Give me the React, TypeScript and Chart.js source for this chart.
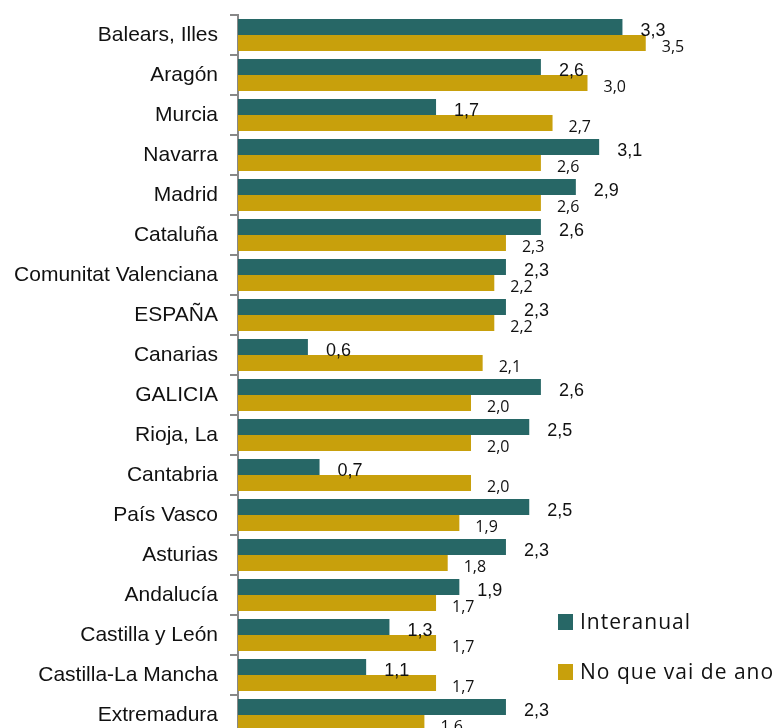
import React, { useEffect, useRef } from "react";
import { Chart, registerables } from "chart.js";

Chart.register(...registerables);

const categories = [
  "Balears, Illes",
  "Aragón",
  "Murcia",
  "Navarra",
  "Madrid",
  "Cataluña",
  "Comunitat Valenciana",
  "ESPAÑA",
  "Canarias",
  "GALICIA",
  "Rioja, La",
  "Cantabria",
  "País Vasco",
  "Asturias",
  "Andalucía",
  "Castilla y León",
  "Castilla-La Mancha",
  "Extremadura",
];

const interanual = [3.3, 2.6, 1.7, 3.1, 2.9, 2.6, 2.3, 2.3, 0.6, 2.6, 2.5, 0.7, 2.5, 2.3, 1.9, 1.3, 1.1, 2.3];
const noQueVaiDeAno = [3.5, 3.0, 2.7, 2.6, 2.6, 2.3, 2.2, 2.2, 2.1, 2.0, 2.0, 2.0, 1.9, 1.8, 1.7, 1.7, 1.7, 1.6];

const seriesNames = ["Interanual", "No que vai de ano"];
const seriesColors = ["#276766", "#C8A00C"];

const valueLabels = {
  id: "valueLabels",
  afterDatasetsDraw(chart: any) {
    const ctx = chart.ctx;
    chart.data.datasets.forEach((ds: any, i: number) => {
      const meta = chart.getDatasetMeta(i);
      meta.data.forEach((bar: any, j: number) => {
        const v = ds.data[j] as number;
        const txt = v.toFixed(1).replace(".", ",");
        ctx.save();
        ctx.font = i === 0 ? '18px "Liberation Sans"' : '16px "Open Sans"';
        ctx.fillStyle = "#111";
        ctx.textAlign = "left";
        ctx.textBaseline = "middle";
        ctx.fillText(txt, bar.x + (i === 0 ? 18 : 16), bar.y + 4);
        ctx.restore();
      });
    });
  },
};

export default function App() {
  const ref = useRef<HTMLCanvasElement | null>(null);

  useEffect(() => {
    if (!ref.current) return;
    const chart = new Chart(ref.current, {
      type: "bar",
      data: {
        labels: categories,
        datasets: [
          {
            label: seriesNames[0],
            data: interanual,
            backgroundColor: seriesColors[0],
            categoryPercentage: 0.8,
            barPercentage: 1.0,
          },
          {
            label: seriesNames[1],
            data: noQueVaiDeAno,
            backgroundColor: seriesColors[1],
            categoryPercentage: 0.8,
            barPercentage: 1.0,
          },
        ],
      },
      options: {
        indexAxis: "y",
        animation: false,
        responsive: false,
        devicePixelRatio: 1,
        layout: { padding: { top: 15, bottom: 5, left: 0, right: 72 } },
        plugins: {
          legend: { display: false },
          tooltip: { enabled: false },
        },
        scales: {
          x: {
            display: false,
            min: 0,
            max: 4,
          },
          y: {
            afterFit: (s: any) => {
              s.width = 238;
              s.paddingTop = 0;
              s.paddingBottom = 0;
            },
            border: { display: true, color: "#888888", width: 2 },
            grid: {
              drawOnChartArea: false,
              drawTicks: true,
              tickLength: 8,
              color: "#888888",
              lineWidth: 2,
            },
            ticks: {
              padding: 12,
              color: "#111111",
              font: { family: "Liberation Sans", size: 21 },
            },
          },
        },
      },
      plugins: [valueLabels],
    });
    return () => chart.destroy();
  }, []);

  const legendText: React.CSSProperties = {
    position: "absolute",
    left: 580,
    fontFamily: '"Open Sans"',
    fontSize: 21,
    letterSpacing: "1px",
    color: "#111",
    lineHeight: "24px",
    whiteSpace: "nowrap",
  };

  return (
    <div
      style={{
        position: "absolute",
        left: 0,
        top: 0,
        width: 776,
        height: 728,
        overflow: "hidden",
        background: "#fff",
      }}
    >
      <canvas ref={ref} width={776} height={740} style={{ display: "block" }} />
      <div style={{ position: "absolute", left: 558, top: 614, width: 15, height: 16, background: seriesColors[0] }} />
      <div style={{ ...legendText, top: 609 }}>{seriesNames[0]}</div>
      <div style={{ position: "absolute", left: 558, top: 664, width: 15, height: 16, background: seriesColors[1] }} />
      <div style={{ ...legendText, top: 659 }}>{seriesNames[1]}</div>
    </div>
  );
}
